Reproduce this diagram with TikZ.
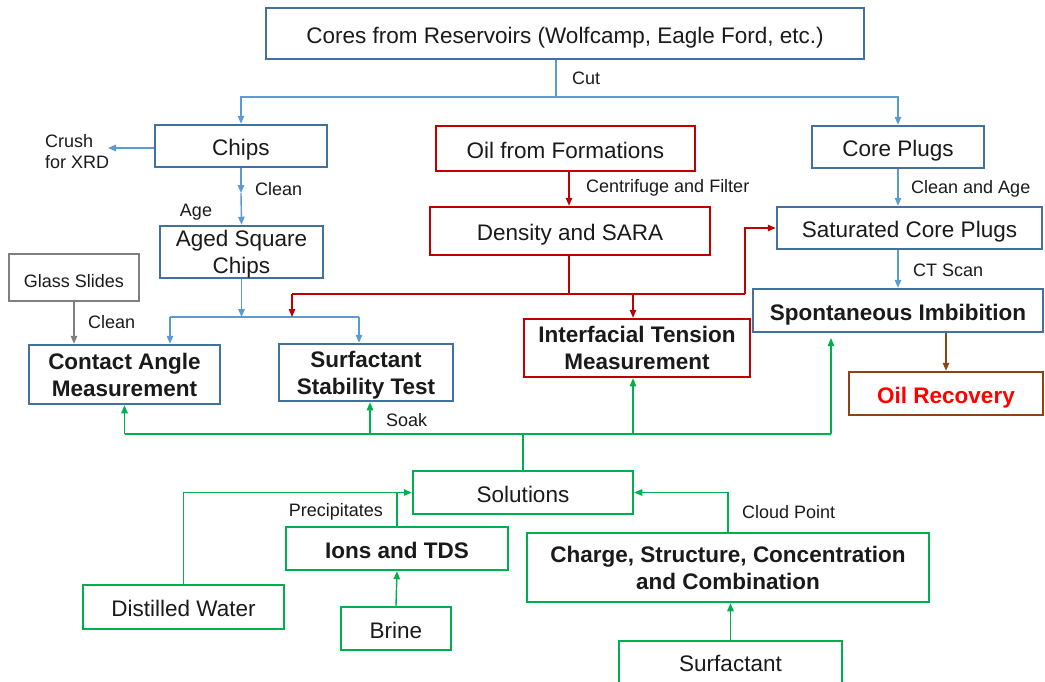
\documentclass[tikz,border=0pt]{standalone}
\usepackage{fontspec}
\setmainfont{Liberation Sans}
\usetikzlibrary{arrows.meta,calc}
\definecolor{bbox}{HTML}{41719C}
\definecolor{bline}{HTML}{5B9BD5}
\definecolor{rbox}{HTML}{C00000}
\definecolor{gbox}{HTML}{00B050}
\definecolor{gybox}{HTML}{7F7F7F}
\definecolor{brbox}{HTML}{8B4513}
\definecolor{txt}{HTML}{1A1A1A}
\tikzset{
  box/.style={draw, line width=2.5pt, inner sep=0pt, align=center, text=txt,
    font=\fontsize{22.5}{27}\selectfont,
    execute at begin node={\rule{0pt}{24pt}},
    execute at end node={\rule[-5pt]{0pt}{5pt}}},
  twoline/.style={text height=47pt, text depth=4pt},
  bbx/.style={box, font=\fontsize{22.5}{27}\selectfont\bfseries},
  lbl/.style={inner sep=0pt, text=txt, font=\fontsize{18}{21}\selectfont},
  conn/.style={line width=1.4pt},
  arr/.style={conn, -{Triangle[length=8pt,width=6.5pt]}},
}
\begin{document}
\begin{tikzpicture}[x=1pt,y=-1pt]
\useasboundingbox (0,0) rectangle (1045,681);
% boxes
\node[box, draw=bbox, minimum width=598, minimum height=51] (cores) at (565,33.5) {Cores from Reservoirs (Wolfcamp, Eagle Ford, etc.)};
\node[box, draw=bbox, minimum width=172, minimum height=42] (chips) at (241,146) {Chips};
\node[box, draw=rbox, minimum width=259, minimum height=45] (oil) at (565.5,148.5) {Oil from Formations};
\node[box, draw=bbox, minimum width=172, minimum height=42] (plugs) at (898,147) {Core Plugs};
\node[box, twoline, draw=bbox, minimum width=163, minimum height=52] (aged) at (241.5,252) {Aged Square\\Chips};
\node[box, draw=rbox, minimum width=280, minimum height=48] (density) at (570,231) {Density and SARA};
\node[box, draw=bbox, minimum width=265, minimum height=42] (sat) at (909.5,228) {Saturated Core Plugs};
\node[box, draw=gybox, minimum width=130, minimum height=47, font=\fontsize{18}{21}\selectfont,
  execute at begin node={\rule{0pt}{16pt}}, execute at end node={\rule[-4pt]{0pt}{4pt}}] (glass) at (74,277.5) {Glass Slides};
\node[bbx, twoline, draw=bbox, minimum width=191, minimum height=59] (contact) at (124.5,374.5) {Contact Angle\\Measurement};
\node[bbx, twoline, draw=bbox, minimum width=174, minimum height=57] (sst) at (366,372.5) {Surfactant\\Stability Test};
\node[bbx, twoline, draw=rbox, minimum width=226, minimum height=58] (ift) at (637,348) {Interfacial Tension\\Measurement};
\node[bbx, draw=bbox, minimum width=290, minimum height=43] (spont) at (898,310.5) {Spontaneous Imbibition};
\node[bbx, draw=brbox, text=red, minimum width=194, minimum height=43] (rec) at (946,393.5) {Oil Recovery};
\node[box, draw=gbox, minimum width=220, minimum height=43] (sol) at (523,492.5) {Solutions};
\node[bbx, draw=gbox, minimum width=222, minimum height=43] (ions) at (397,548.5) {Ions and TDS};
\node[bbx, twoline, draw=gbox, minimum width=402, minimum height=69] (charge) at (728,567.5) {Charge, Structure, Concentration\\and Combination};
\node[box, draw=gbox, minimum width=201, minimum height=44] (water) at (183.5,607) {Distilled Water};
\node[box, draw=gbox, minimum width=110, minimum height=43] (brine) at (396,628.5) {Brine};
\node[box, draw=gbox, minimum width=223, minimum height=42] (surf) at (730.5,662) {Surfactant};
% coordinates
\coordinate (cut) at (556,97);
\coordinate (crush) at (108,148);
\coordinate (agemid) at (241,193);
\coordinate (sL) at (170,317);
\coordinate (sR) at (359,317);
\coordinate (rj) at (569,294);
\coordinate (rL) at (292,294);
\coordinate (rR) at (745,294);
\coordinate (gj) at (523,434);
\coordinate (gL) at (124.5,434);
\coordinate (gS) at (370,434);
\coordinate (gI) at (633,434);
\coordinate (gR) at (831,434);
\coordinate (spTip) at (831,338);
% blue connectors
\draw[conn, bline] (cores.south -| cut) -- (cut);
\draw[arr, bline] (cut) -| (chips.north);
\draw[arr, bline] (cut) -| (plugs.north);
\draw[arr, bline] (chips.west |- crush) -- (crush);
\draw[arr, bline] (chips.south) -- (agemid);
\draw[arr, bline] (agemid) -- (aged.north);
\draw[arr, bline] (aged.south) -- (aged.south |- sL);
\draw[conn, bline] (sL) -- (sR);
\draw[arr, bline] (sL) -- (sL |- contact.north);
\draw[arr, bline] (sR) -- (sR |- sst.north);
\draw[arr, bline] (plugs.south) -- (plugs.south |- sat.north);
\draw[arr, bline] (sat.south -| spont.north) -- (spont.north);
% gray
\draw[arr, gybox] (glass.south) -- (glass.south |- contact.north);
% red connectors
\draw[arr, rbox] (oil.south -| rj) -- (rj |- density.north);
\draw[conn, rbox] (density.south -| rj) -- (rj);
\draw[conn, rbox] (rL) -- (rR);
\draw[arr, rbox] (rL) -- (rL |- sL);
\draw[arr, rbox] (rR) |- (sat.west);
\draw[arr, rbox] (rL -| gI) -- (gI |- ift.north);
% brown
\draw[arr, brbox] (spont.south -| rec.north) -- (rec.north);
% green connectors
\draw[conn, gbox] (sol.north) -- (gj);
\draw[conn, gbox] (gL) -- (gR);
\draw[arr, gbox] (gL) -- (contact.south);
\draw[arr, gbox] (gS) -- (gS |- sst.south);
\draw[arr, gbox] (gI) -- (gI |- ift.south);
\draw[arr, gbox] (gR) -- (spTip);
\draw[arr, gbox] (water.north) |- (sol.west);
\draw[conn, gbox] (ions.north) -- (ions.north |- sol.west);
\draw[arr, gbox] (brine.north) -- (ions.south);
\draw[arr, gbox] (charge.north) |- (sol.east);
\draw[arr, gbox] (surf.north) -- (surf.north |- charge.south);
% labels
\node[lbl, anchor=west] (lcut) at (572,78) {Cut};
\node[lbl, anchor=west, align=left] (lcrush) at (45,152) {Crush\\for XRD};
\node[lbl, anchor=west] (lclean1) at (255,189) {Clean};
\node[lbl, anchor=center] (lage) at (196,212) {Age};
\node[lbl, anchor=west] (lcentr) at (586,188) {Centrifuge and Filter};
\node[lbl, anchor=west] (lclage) at (911,189) {Clean and Age};
\node[lbl, anchor=west] (lclean2) at (88,322) {Clean};
\node[lbl, anchor=west] (lct) at (913,270) {CT Scan};
\node[lbl, anchor=west] (lsoak) at (386,420) {Soak};
\node[lbl, anchor=east] (lprec) at (383,512) {Precipitates};
\node[lbl, anchor=west] (lcloud) at (742,512) {Cloud Point};
\end{tikzpicture}
\end{document}
